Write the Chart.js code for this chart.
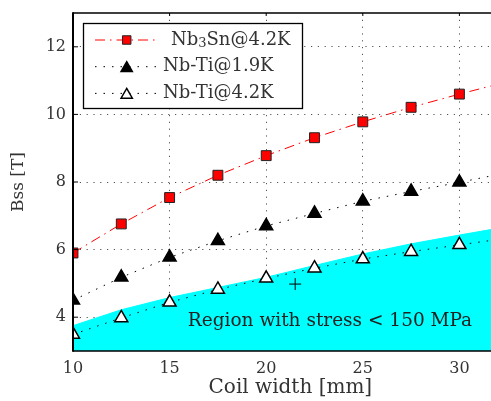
<!DOCTYPE html>
<html lang="en">
<head>
<meta charset="UTF-8"/>
<title>Bss vs coil width</title>
<script src="https://cdn.jsdelivr.net/npm/chart.js"></script>
<style>
  html, body { margin:0; padding:0; overflow:hidden; background:#fff; }
  canvas { display:block; }
</style>
</head>
<body>
<canvas id="bssChart" width="520" height="401"></canvas>
<script>
/* ========== data ========== */
const coilWidth = [10, 12.5, 15, 17.5, 20, 22.5, 25, 27.5, 30];   // mm
const nb3sn42   = [5.9, 6.76, 7.54, 8.2, 8.78, 9.31, 9.78, 10.21, 10.6];
const nbti19    = [4.5, 5.18, 5.77, 6.26, 6.7, 7.07, 7.43, 7.72, 7.99];
const nbti42    = [3.49, 3.98, 4.44, 4.82, 5.15, 5.45, 5.72, 5.94, 6.14];

// the lines run on past the last marker up to the (cropped) right edge
const lineEndX  = 32.5;
const nb3snEnd  = 10.97;
const nbti19End = 8.28;
const nbti42End = 6.34;

// upper edge of the cyan "stress < 150 MPa" region
const regionX = [10, 12.5, 15, 17.5, 20, 22.5, 25, 27.5, 30, 32.5];
const regionY = [3.75, 4.22, 4.58, 4.88, 5.18, 5.53, 5.87, 6.17, 6.43, 6.68];

// the single "+" marker
const crossX = [21.5];
const crossY = [4.98];

const xTicks = [10, 15, 20, 25, 30];
const yTicks = [4, 6, 8, 10, 12];

/* ========== helpers ========== */
const SERIF = "'DejaVu Serif', serif";
const TXT = '#333';

function withEnd(xs, ys, endY){
  return xs.map((x, i) => ({x: x, y: ys[i]})).concat([{x: lineEndX, y: endY}]);
}
function pairs(xs, ys){ return xs.map((x, i) => ({x: x, y: ys[i]})); }
// no marker on the extra line-end point
const markerR = r => c => c.dataIndex < coilWidth.length ? r : 0;

const series = [
  { label:'Nb3Sn@4.2K', sub:[2,3], textX:171, color:'#ff0000', dash:[10,5,1.5,5],
    style:'rect', r:7, fill:'#ff0000', edge:'#222' },
  { label:'Nb-Ti@1.9K', textX:163, color:'#000', dash:[1.5,7],
    style:'triangle', r:7.5, fill:'#000', edge:'#000' },
  { label:'Nb-Ti@4.2K', textX:163, color:'#000', dash:[1.5,7],
    style:'triangle', r:7.5, fill:'#fff', edge:'#000' }
];
const values = [[nb3sn42, nb3snEnd], [nbti19, nbti19End], [nbti42, nbti42End]];

function drawMarker(ctx, s, x, y){
  ctx.save();
  ctx.beginPath();
  if (s.style === 'rect'){
    const h = s.r * Math.SQRT1_2;
    ctx.rect(x - h, y - h, 2*h, 2*h);
  } else {
    for (let k = 0; k < 3; k++){
      const a = k * 2*Math.PI/3;
      const px = x + Math.sin(a)*s.r, py = y - Math.cos(a)*s.r;
      k ? ctx.lineTo(px, py) : ctx.moveTo(px, py);
    }
    ctx.closePath();
  }
  ctx.fillStyle = s.fill; ctx.fill();
  ctx.lineWidth = s.style === 'rect' ? 1 : 1.5;
  ctx.strokeStyle = s.edge; ctx.stroke();
  ctx.restore();
}

/* ========== plugins: frame, region text, legend ========== */
const framePlugin = {
  id:'frame',
  afterDatasetsDraw(chart){
    const {ctx, chartArea:a, scales:{x, y}} = chart;
    ctx.save();
    ctx.strokeStyle = '#000';
    ctx.lineWidth = 1.5;
    ctx.beginPath();
    ctx.moveTo(a.left, a.top); ctx.lineTo(a.right, a.top);
    ctx.moveTo(a.left, a.bottom); ctx.lineTo(a.right, a.bottom);
    ctx.moveTo(a.right, a.top); ctx.lineTo(a.right, a.bottom);
    ctx.stroke();
    ctx.lineWidth = 2;
    ctx.beginPath();
    ctx.moveTo(a.left, a.top - 0.75); ctx.lineTo(a.left, a.bottom + 0.75);
    ctx.stroke();
    // inward ticks
    ctx.lineWidth = 1;
    ctx.beginPath();
    yTicks.forEach(v => { const py = y.getPixelForValue(v); ctx.moveTo(a.left, py); ctx.lineTo(a.left + 5, py); });
    xTicks.forEach(v => { const px = x.getPixelForValue(v); ctx.moveTo(px, a.top); ctx.lineTo(px, a.top + 3); });
    ctx.stroke();
    // region label
    ctx.font = '18.5px ' + SERIF;
    ctx.fillStyle = '#222';
    ctx.textAlign = 'center';
    ctx.textBaseline = 'alphabetic';
    ctx.fillText('Region with stress < 150 MPa', 330, 326);
    ctx.restore();
  }
};

const legendPlugin = {
  id:'boxLegend',
  afterDraw(chart){
    const ctx = chart.ctx;
    const box = {left:83.5, top:23.5, w:219, h:85};
    ctx.save();
    ctx.fillStyle = '#fff';
    ctx.fillRect(box.left, box.top, box.w, box.h);
    ctx.strokeStyle = '#000';
    ctx.lineWidth = 1.3;
    ctx.strokeRect(box.left, box.top, box.w, box.h);
    series.forEach((s, i) => {
      const yy = box.top + 16.5 + i*26.7;
      ctx.save();
      ctx.strokeStyle = s.color;
      ctx.lineWidth = 1;
      ctx.setLineDash(s.dash);
      ctx.beginPath(); ctx.moveTo(95, yy); ctx.lineTo(158, yy); ctx.stroke();
      ctx.restore();
      drawMarker(ctx, Object.assign({}, s, {r: s.r - 1}), 126.7, yy + (s.style === 'triangle' ? 1.5 : 0));
      ctx.fillStyle = TXT;
      ctx.textBaseline = 'middle';
      ctx.textAlign = 'left';
      let tx = s.textX;
      if (s.sub){
        const a = s.label.slice(0, s.sub[0]), b = s.label.slice(s.sub[0], s.sub[0]+1), c = s.label.slice(s.sub[0]+1);
        ctx.font = '18px ' + SERIF;
        ctx.fillText(a, tx, yy); tx += ctx.measureText(a).width;
        ctx.font = '13px ' + SERIF;
        ctx.fillText(b, tx, yy + 4); tx += ctx.measureText(b).width;
        ctx.font = '18px ' + SERIF;
        ctx.fillText(c, tx, yy);
      } else {
        ctx.font = '18px ' + SERIF;
        ctx.fillText(s.label, tx, yy);
      }
    });
    ctx.restore();
  }
};

/* ========== chart ========== */
const datasets = series.map((s, i) => ({
  label: s.label,
  data: withEnd(coilWidth, values[i][0], values[i][1]),
  showLine: true,
  borderColor: s.color,
  borderWidth: 1,
  borderDash: s.dash,
  pointStyle: s.style,
  pointRadius: markerR(s.r),
  pointBackgroundColor: s.fill,
  pointBorderColor: s.edge,
  pointBorderWidth: s.style === 'rect' ? 1 : 1.5,
  order: 1 + i
}));
datasets.push({
  label: 'cross',
  data: pairs(crossX, crossY),
  showLine: false,
  pointStyle: 'cross',
  pointRadius: 6,
  pointBorderColor: '#000',
  pointBorderWidth: 1,
  order: 0
});
datasets.push({
  label: 'region',
  data: pairs(regionX, regionY),
  showLine: true,
  fill: 'start',
  backgroundColor: '#00ffff',
  borderColor: '#00ffff',
  borderWidth: 1,
  pointRadius: 0,
  order: 10
});

const ctx = document.getElementById('bssChart').getContext('2d');
new Chart(ctx, {
  type: 'scatter',
  data: { datasets: datasets },
  plugins: [framePlugin, legendPlugin],
  options: {
    responsive: false,
    animation: false,
    events: [],
    layout: { padding: { top: 13, left: 0, right: 12.3, bottom: 0 } },
    plugins: { legend: { display: false }, tooltip: { enabled: false } },
    scales: {
      x: {
        type: 'linear', min: 10, max: 32.5,
        afterBuildTicks: sc => { sc.ticks = xTicks.map(v => ({value: v})); },
        afterFit: sc => { sc.height = 50; sc.paddingLeft = 0; sc.paddingRight = 0; },
        grid: { color: '#555', lineWidth: 1, drawTicks: false },
        border: { display: false, dash: [1.2, 5.6] },
        ticks: { font: { family: SERIF, size: 16 }, color: TXT, padding: 8, maxRotation: 0 },
        title: { display: true, text: 'Coil width [mm]', font: { family: SERIF, size: 20 }, color: TXT, padding: { top: 0, bottom: 1 } }
      },
      y: {
        type: 'linear', min: 3, max: 13,
        afterBuildTicks: sc => { sc.ticks = yTicks.map(v => ({value: v})); },
        afterFit: sc => { sc.width = 73; sc.paddingTop = 0; sc.paddingBottom = 0; },
        grid: { color: '#555', lineWidth: 1, drawTicks: false },
        border: { display: false, dash: [1.2, 5.6] },
        ticks: { font: { family: SERIF, size: 16 }, color: TXT, padding: 7 },
        title: { display: true, text: 'Bss [T]', font: { family: SERIF, size: 17 }, color: TXT, padding: { top: 8, bottom: 0 } }
      }
    }
  }
});
</script>
</body>
</html>
